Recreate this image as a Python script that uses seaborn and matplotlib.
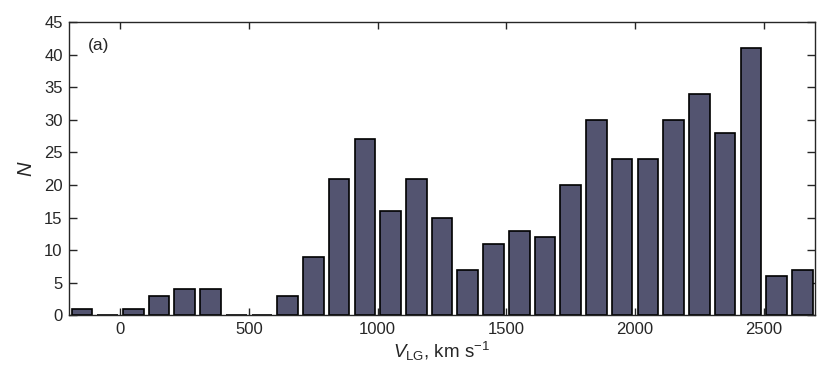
import numpy as np
import pandas as pd
import matplotlib
matplotlib.use("Agg")
import matplotlib.pyplot as plt
import seaborn as sns

# bin centres (km/s) and counts
velocity = [-150, -50, 50, 150, 250, 350, 450, 550, 650, 750, 850, 950, 1050, 1150,
            1250, 1350, 1450, 1550, 1650, 1750, 1850, 1950, 2050, 2150, 2250, 2350,
            2450, 2550, 2650]
counts = [1, 0, 1, 3, 4, 4, 0, 0, 3, 9, 21, 27, 16, 21,
          15, 7, 11, 13, 12, 20, 30, 24, 24, 30, 34, 28,
          41, 6, 7]
xticks = [0, 500, 1000, 1500, 2000, 2500]
yticks = [0, 5, 10, 15, 20, 25, 30, 35, 40, 45]

df = pd.DataFrame({"v": velocity, "n": counts})

sns.set_theme(style="ticks")
plt.rcParams["font.family"] = ["Liberation Sans", "DejaVu Sans"]
plt.rcParams["mathtext.fontset"] = "custom"
plt.rcParams["mathtext.rm"] = "Liberation Sans"
plt.rcParams["mathtext.it"] = "Liberation Sans:italic"

fig = plt.figure(figsize=(8.3, 3.87), dpi=100)
ax = fig.add_axes([0.0831, 0.185, 0.899, 0.758])

sns.barplot(data=df, x="v", y="n", native_scale=True, width=0.8,
            color="#535470", saturation=1, edgecolor="black", linewidth=1.2, ax=ax)

ax.set_xlim(-200, 2700)
ax.set_ylim(0, 45)
ax.set_xticks(xticks)
ax.set_yticks(yticks)
ax.tick_params(axis="both", direction="in", top=True, right=True,
               labelsize=12, colors="#262626", width=1.0)
ax.tick_params(axis="x", length=5, pad=5)
ax.tick_params(axis="y", length=6, pad=4.5)
for s in ax.spines.values():
    s.set_visible(True)
    s.set_color("#262626")
    s.set_linewidth(1.0)

ax.set_xlabel(r"$V_{\rm LG}$, km s$^{-1}$", fontsize=13.5, color="#262626", labelpad=2)
ax.set_ylabel(r"$N$", fontsize=14.5, color="#262626", labelpad=6)
ax.text(0.0255, 0.921, "(a)", transform=ax.transAxes, fontsize=12.5, color="#262626",
        va="center")

fig.savefig("out.png", dpi=100)
